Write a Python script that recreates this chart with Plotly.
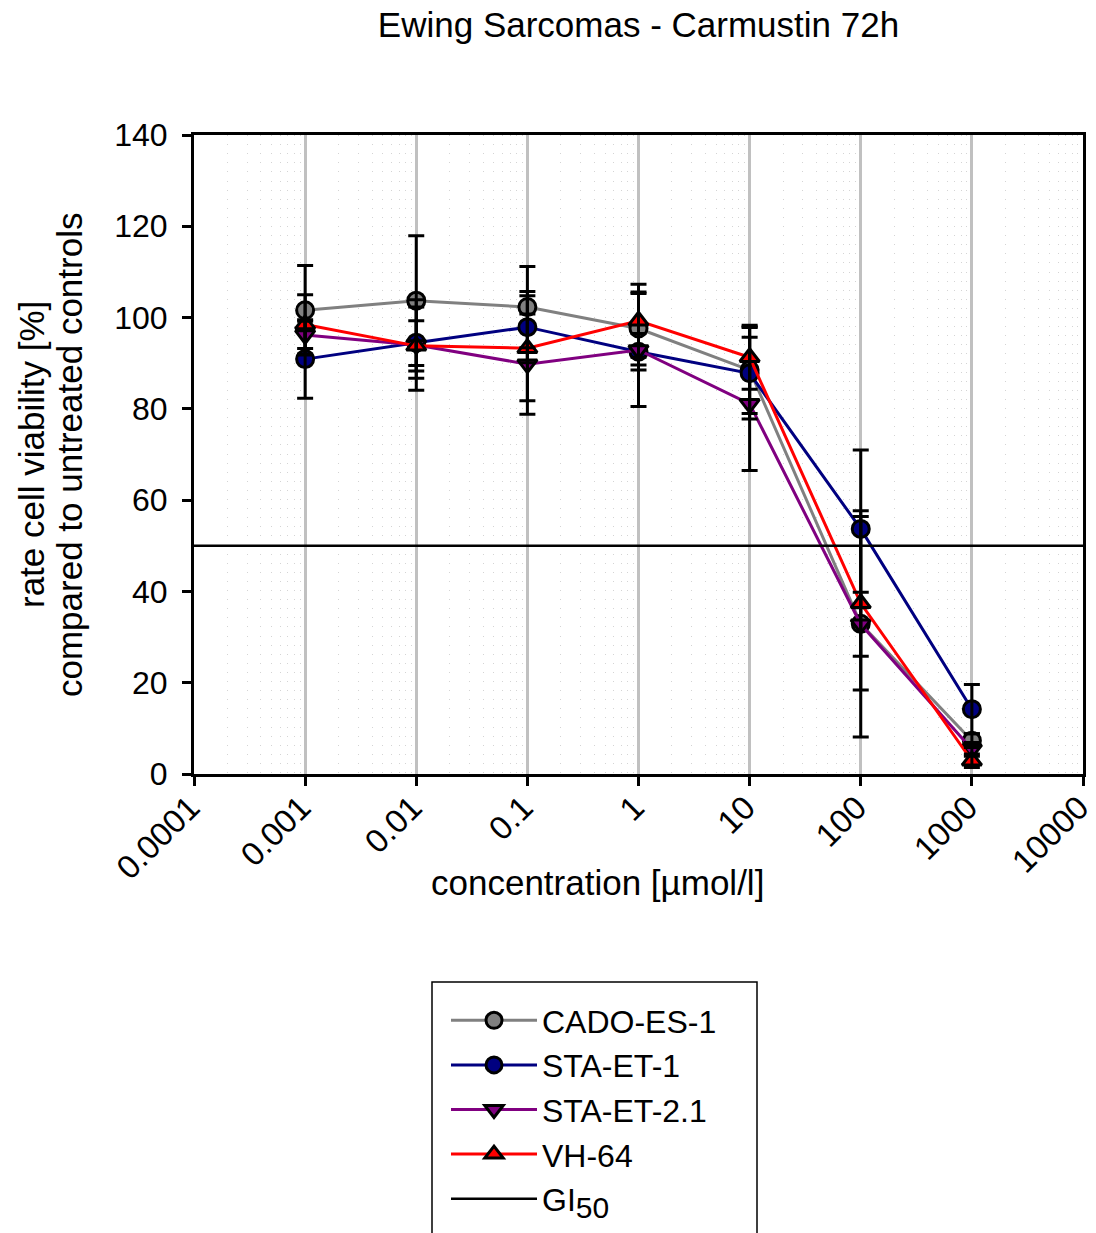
import plotly.graph_objects as go

# ---- data ----
concentration = [0.001, 0.01, 0.1, 1, 10, 100, 1000]

cado_es_1 = [101.6, 103.7, 102.3, 97.6, 88.5, 32.9, 7.3]
cado_es_1_err = [9.8, 14.2, 8.9, 8.0, 9.5, 24.8, 1.5]

sta_et_1 = [90.9, 94.5, 97.9, 92.5, 87.8, 53.7, 14.2]
sta_et_1_err = [8.6, 7.8, 7.8, 4.0, 10.0, 17.3, 5.4]

sta_et_2_1 = [96.2, 94.0, 89.8, 92.9, 81.1, 32.8, 5.4]
sta_et_2_1_err = [3.0, 9.9, 11.0, 12.4, 14.6, 7.0, 1.5]

vh_64 = [98.5, 93.8, 93.3, 99.3, 91.3, 37.4, 2.9]
vh_64_err = [6.5, 5.5, 11.5, 8.0, 7.0, 19.0, 1.5]

gi50_x = [0.0001, 10000]
gi50_y = [50, 50]

x_tickvals = [0.0001, 0.001, 0.01, 0.1, 1, 10, 100, 1000, 10000]
x_ticktext = ["0.0001", "0.001", "0.01", "0.1", "1", "10", "100", "1000", "10000"]

series = [
    ("CADO-ES-1", cado_es_1, cado_es_1_err, "#808080", "circle"),
    ("STA-ET-1", sta_et_1, sta_et_1_err, "#000080", "circle"),
    ("STA-ET-2.1", sta_et_2_1, sta_et_2_1_err, "#800080", "triangle-down"),
    ("VH-64", vh_64, vh_64_err, "#ff0000", "triangle-up"),
]

FONT = "Liberation Sans, Arial, sans-serif"
W, H = 1096, 1233
L, R, T, B = 194, 13, 135, 459
PW, PH = W - L - R, H - T - B


def px_x(px):
    return (px - L) / PW


def px_y(py):
    return (H - B - py) / PH


fig = go.Figure()

for name, vals, errs, col, sym in series:
    fig.add_trace(go.Scatter(
        x=concentration, y=vals, name=name, mode="lines+markers",
        line=dict(color=col, width=3),
        marker=dict(symbol=sym, size=17, color=col, line=dict(color="black", width=3)),
        cliponaxis=False,
    ))

# error bars drawn on top of the markers
for name, vals, errs, col, sym in series:
    fig.add_trace(go.Scatter(
        x=concentration, y=vals, mode="markers", showlegend=False, hoverinfo="skip",
        marker=dict(size=1, opacity=0),
        error_y=dict(type="data", array=errs, symmetric=True, color="black",
                     thickness=3, width=8),
        cliponaxis=False,
    ))

fig.add_trace(go.Scatter(
    x=gi50_x, y=gi50_y, name='GI<sub><span style="font-size:30px">50</span></sub>',
    mode="lines", line=dict(color="black", width=2.5),
))

fig.update_layout(
    template="none",
    width=W, height=H,
    margin=dict(l=L, r=R, t=T, b=B, autoexpand=False),
    paper_bgcolor="white", plot_bgcolor="white",
    font=dict(family=FONT, size=32, color="black"),
    title=dict(text="Ewing Sarcomas - Carmustin 72h", x=0.5, xref="paper",
               y=1 - 25 / H, yanchor="middle", font=dict(size=35)),
    showlegend=True,
    legend=dict(x=px_x(446), xanchor="left", y=px_y(993), yanchor="top",
                borderwidth=0, bgcolor="rgba(0,0,0,0)",
                font=dict(size=32), itemwidth=86, tracegroupgap=0),
)

# legend frame (extends past the bottom edge, as in the reference)
fig.add_shape(type="rect", xref="paper", yref="paper",
              x0=px_x(432), x1=px_x(757), y0=px_y(1245), y1=px_y(982),
              line=dict(color="black", width=1.5), fillcolor="rgba(0,0,0,0)", layer="below")

fig.update_xaxes(
    type="log", range=[-4, 4], automargin=False,
    tickvals=x_tickvals, ticktext=x_ticktext, tickangle=-45,
    tickfont=dict(size=33), ticklabeloverflow="allow",
    ticklabelstandoff=-11, ticklabelshift=-4,
    ticks="outside", ticklen=9, tickwidth=3, tickcolor="black",
    showline=True, linecolor="black", linewidth=3, mirror=True,
    showgrid=True, gridcolor="#c0c0c0", gridwidth=3,
    minor=dict(dtick="D1", showgrid=True, gridcolor="#d4d4d4", gridwidth=1,
               griddash="1px,8.1px", ticks=""),
    zeroline=False,
)

fig.update_yaxes(
    range=[0, 140], dtick=20, automargin=False,
    tickfont=dict(size=32), ticklabelstandoff=8,
    ticks="outside", ticklen=9, tickwidth=3, tickcolor="black",
    showline=True, linecolor="black", linewidth=3, mirror=True,
    showgrid=False, zeroline=False,
)

# axis titles
fig.add_annotation(text="concentration [µmol/l]", xref="paper", yref="paper",
                   x=px_x(597), y=px_y(882),
                   xanchor="center", yanchor="middle", showarrow=False,
                   font=dict(size=35))
fig.add_annotation(text="rate cell viability [%]", xref="paper", yref="paper",
                   x=px_x(31), y=px_y(455), textangle=-90,
                   xanchor="center", yanchor="middle", showarrow=False,
                   font=dict(size=35))
fig.add_annotation(text="compared to untreated controls", xref="paper", yref="paper",
                   x=px_x(69), y=px_y(455), textangle=-90,
                   xanchor="center", yanchor="middle", showarrow=False,
                   font=dict(size=35))

fig.write_html("out.html")
